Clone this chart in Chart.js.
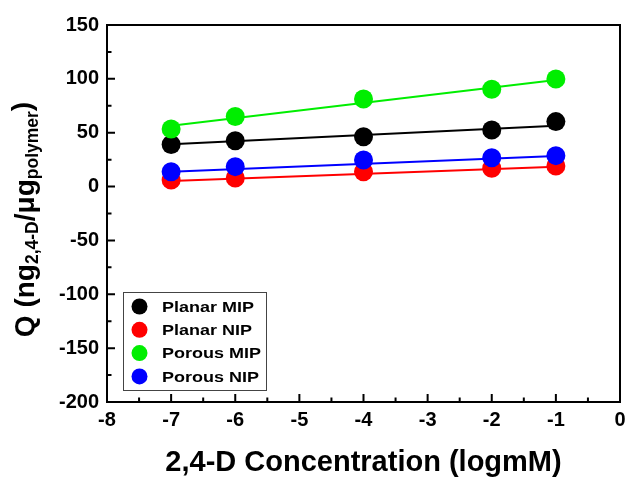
<!DOCTYPE html>
<html>
<head>
<meta charset="utf-8">
<script src="https://cdn.jsdelivr.net/npm/chart.js@4/dist/chart.umd.min.js"></script>
<style>
  html, body { margin: 0; padding: 0; background: #fff; overflow: hidden; }
  #wrap { width: 625px; height: 477px; position: relative; }
</style>
</head>
<body>
<div id="wrap"><canvas id="chart"></canvas></div>
<script>
// x values (log concentration, logmM)
const concentrations = [-7, -6, -4, -2, -1];

const planarMIP = [39, 42.6, 46.3, 52.6, 60.3];
const planarNIP = [6, 8, 13.8, 17, 19.1];
const porousMIP = [53.5, 65, 81.3, 90.3, 99.9];
const porousNIP = [13.8, 18.5, 24.7, 26.8, 28.7];

// straight fit lines, values at the two ends (x = -7 and x = -1)
const fitEnds = [-7, -1];
const planarMIPFit = [39.3, 56.5];
const planarNIPFit = [5.2, 18.5];
const porousMIPFit = [56.5, 98.9];
const porousNIPFit = [13.8, 28.4];

const seriesNames = ['Planar MIP', 'Planar NIP', 'Porous MIP', 'Porous NIP'];
const seriesColors = ['#000000', '#ff0000', '#00ee00', '#0000ff'];

const xTicks = [-8, -7, -6, -5, -4, -3, -2, -1, 0];
const yTicks = [-200, -150, -100, -50, 0, 50, 100, 150];

function toPoints(xs, ys) {
    return xs.map((x, i) => ({ x: x, y: ys[i] }));
}

const pointSets = [planarMIP, planarNIP, porousMIP, porousNIP];
const fitSets = [planarMIPFit, planarNIPFit, porousMIPFit, porousNIPFit];

let datasets = [];
pointSets.forEach((vals, i) => {
    datasets.push({
        label: seriesNames[i],
        data: toPoints(concentrations, vals),
        showLine: false,
        pointRadius: 9.5,
        pointBorderWidth: 0,
        backgroundColor: seriesColors[i],
        borderColor: seriesColors[i],
        order: 8 - i * 2
    });
    datasets.push({
        label: seriesNames[i] + ' fit',
        data: toPoints(fitEnds, fitSets[i]),
        showLine: true,
        pointRadius: 0,
        borderWidth: 2,
        borderColor: seriesColors[i],
        backgroundColor: seriesColors[i],
        order: 7 - i * 2
    });
});

const fontFamily = '"Liberation Sans", Arial, sans-serif';

// frame round the plot and inward ticks (major + minor)
const frameTicks = {
    id: 'frameTicks',
    afterDatasetsDraw(chart) {
        const ctx = chart.ctx;
        const a = chart.chartArea;
        const xs = chart.scales.x, ys = chart.scales.y;
        ctx.save();
        ctx.strokeStyle = '#000';
        ctx.lineWidth = 2;
        ctx.strokeRect(a.left, a.top, a.right - a.left, a.bottom - a.top);
        ctx.beginPath();
        for (let v = -8; v <= 0; v += 0.5) {
            const px = xs.getPixelForValue(v);
            const len = Number.isInteger(v) ? 8 : 4.5;
            ctx.moveTo(px, a.bottom);
            ctx.lineTo(px, a.bottom - len);
        }
        for (let v = -200; v <= 150; v += 25) {
            const py = ys.getPixelForValue(v);
            const len = v % 50 === 0 ? 8 : 4.5;
            ctx.moveTo(a.left, py);
            ctx.lineTo(a.left + len, py);
        }
        ctx.stroke();
        ctx.restore();
    }
};

// legend box in the lower left of the plot
const boxLegend = {
    id: 'boxLegend',
    afterDraw(chart) {
        const ctx = chart.ctx;
        const a = chart.chartArea;
        const left = a.left + 16, top = a.bottom - 110, w = 143, h = 98;
        ctx.save();
        ctx.strokeStyle = '#444';
        ctx.lineWidth = 1;
        ctx.strokeRect(left + 0.5, top + 0.5, w, h);
        ctx.textBaseline = 'middle';
        seriesNames.forEach((name, i) => {
            const cy = top + 14.5 + i * 23.3;
            ctx.beginPath();
            ctx.fillStyle = seriesColors[i];
            ctx.arc(left + 16.5, cy, 8, 0, Math.PI * 2);
            ctx.fill();
            ctx.save();
            ctx.translate(left + 39, cy + 1);
            ctx.scale(1.16, 1);
            ctx.font = 'bold 15.5px ' + fontFamily;
            ctx.fillStyle = '#000';
            ctx.fillText(name, 0, 0);
            ctx.restore();
        });
        ctx.restore();
    }
};

// y axis title with subscripts
const yTitle = {
    id: 'yTitle',
    afterDraw(chart) {
        const ctx = chart.ctx;
        const a = chart.chartArea;
        const big = 'bold 28px ' + fontFamily;
        const small = 'bold 17.5px ' + fontFamily;
        const parts = [
            { t: 'Q (ng', f: big, dy: 0 },
            { t: '2,4-D', f: small, dy: 4 },
            { t: '/\u03bcg', f: big, dy: 0 },
            { t: 'polymer', f: small, dy: 4 },
            { t: ')', f: big, dy: -3 }
        ];
        ctx.save();
        let total = 0;
        parts.forEach(p => { ctx.font = p.f; p.w = ctx.measureText(p.t).width; total += p.w; });
        ctx.translate(34, (a.top + a.bottom) / 2 + 6);
        ctx.rotate(-Math.PI / 2);
        ctx.fillStyle = '#000';
        ctx.textBaseline = 'alphabetic';
        let x = -total / 2;
        parts.forEach(p => {
            ctx.font = p.f;
            ctx.fillText(p.t, x, p.dy);
            x += p.w;
        });
        ctx.restore();
    }
};

const tickFont = { family: fontFamily, size: 20, weight: 'bold' };

let chart = new Chart(document.getElementById('chart'), {
    type: 'scatter',
    data: { datasets: datasets },
    options: {
        responsive: true,
        maintainAspectRatio: false,
        animation: false,
        layout: { autoPadding: false, padding: { top: 25, right: 5, left: 0, bottom: 0 } },
        scales: {
            x: {
                type: 'linear',
                min: -8,
                max: 0,
                grid: { display: false, drawTicks: false },
                border: { display: false },
                afterBuildTicks: (s) => { s.ticks = xTicks.map(v => ({ value: v })); },
                ticks: { color: '#000', font: tickFont, padding: 6, maxRotation: 0 },
                title: {
                    display: true,
                    text: '2,4-D Concentration (logmM)',
                    color: '#000',
                    font: { family: fontFamily, size: 29, weight: 'bold' },
                    padding: { top: 0, bottom: -3 }
                },
                afterFit: (s) => {
                    s.height = 75;
                    s.paddingLeft = 0;
                    s.paddingRight = 0;
                }
            },
            y: {
                type: 'linear',
                min: -200,
                max: 150,
                grid: { display: false, drawTicks: false },
                border: { display: false },
                afterBuildTicks: (s) => { s.ticks = yTicks.map(v => ({ value: v })); },
                ticks: { color: '#000', font: tickFont, padding: 8 },
                afterFit: (s) => {
                    s.width = 107;
                    s.paddingTop = 0;
                    s.paddingBottom = 0;
                }
            }
        },
        plugins: {
            legend: { display: false },
            tooltip: { enabled: false }
        }
    },
    plugins: [frameTicks, boxLegend, yTitle]
});
</script>
</body>
</html>
